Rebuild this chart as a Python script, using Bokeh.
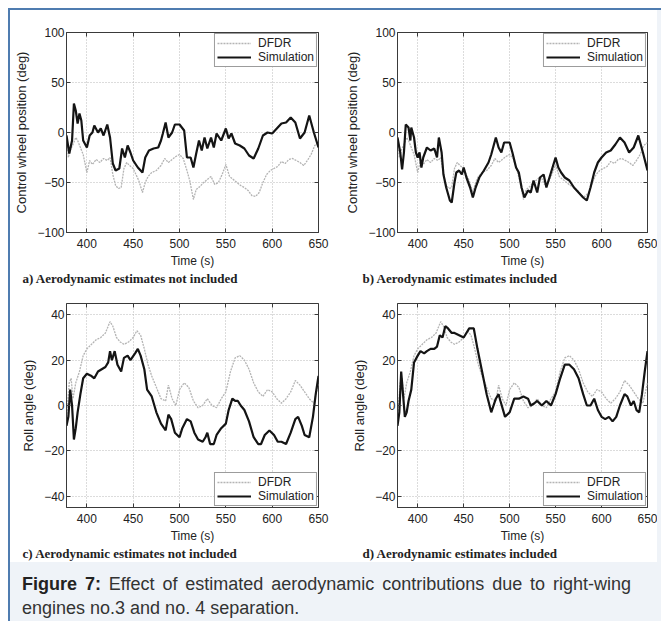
from bokeh.plotting import figure
from bokeh.layouts import row, column
from bokeh.models import Range1d, FixedTicker, LinearAxis, Title, Div
from bokeh.embed import file_html
from bokeh.resources import INLINE

# ---------------- data ----------------
x_ticks = [400, 450, 500, 550, 600, 650]
x_tick_labels = ["400", "450", "500", "550", "600", "650"]
wheel_ticks = [-100, -50, 0, 50, 100]
wheel_tick_labels = ["\u2212100", "\u221250", "0", "50", "100"]
roll_ticks = [-40, -20, 0, 20, 40]
roll_tick_labels = ["\u221240", "\u221220", "0", "20", "40"]

# DFDR control wheel position (same record in panels a and b)
t_wheel_dfdr = [378, 380, 382, 385, 388, 390, 393, 396, 400, 403, 406, 410, 414, 418, 422, 425,
                428, 431, 434, 437, 440, 443, 446, 450, 453, 456, 460, 463, 466, 470, 475, 480,
                484, 488, 492, 496, 500, 504, 508, 511, 515, 518, 522, 526, 530, 534, 538, 542,
                546, 550, 554, 558, 562, 566, 570, 574, 578, 582, 586, 590, 594, 598, 602, 606,
                610, 614, 618, 622, 626, 630, 634, 638, 642, 646, 650]
wheel_dfdr = [-8, -25, -18, -12, -5, -8, -15, -22, -40, -28, -32, -27, -30, -26, -28, -25,
              -42, -53, -56, -55, -36, -30, -33, -36, -42, -48, -60, -50, -44, -40, -38, -33,
              -26, -30, -27, -24, -22, -26, -38, -48, -67, -57, -54, -50, -47, -44, -52, -50,
              -42, -32, -44, -47, -50, -53, -55, -58, -63, -64, -60, -50, -42, -38, -36, -34,
              -29, -31, -27, -26, -28, -30, -33, -28, -22, -13, -10]

# Simulation, aerodynamic estimates not included (panel a)
t_wheel_sim_a = [378, 381, 384, 386, 388, 390, 392, 394, 396, 400, 403, 406, 408, 412, 415, 418,
                 422, 425, 428, 431, 435, 438, 441, 444, 447, 450, 455, 460, 463, 467, 472, 477,
                 480, 482, 485, 488, 492, 495, 500, 505, 508, 512, 515, 518, 521, 524, 527, 530,
                 534, 537, 540, 545, 550, 553, 556, 560, 565, 570, 575, 580, 585, 590, 595, 600,
                 605, 610, 615, 620, 625, 630, 635, 640, 645, 650]
wheel_sim_a = [-3, -21, -8, 29, 22, 9, 19, 12, -8, -15, -3, 0, 7, 0, 4, -3,
               8, -5, -31, -38, -36, -16, -25, -13, -20, -28, -35, -40, -25, -18, -16, -15,
               -8, -1, 10, -5, 0, 8, 8, 2, -25, -25, -35, -21, -8, -18, -5, -16,
               -5, -15, -1, -8, 4, -6, -1, -11, -13, -16, -23, -26, -16, -3, 0, -1,
               4, 9, 10, 15, 10, -6, 0, 17, 0, -15]

# Simulation, aerodynamic estimates included (panel b)
t_wheel_sim_b = [378, 381, 383, 385, 387, 390, 392, 393, 396, 398, 400, 402, 404, 406, 408, 410,
                 414, 418, 421, 423, 426, 428, 431, 435, 437, 440, 442, 445, 448, 450, 453, 457,
                 460, 463, 467, 472, 477, 480, 485, 488, 491, 494, 500, 503, 507, 510, 513, 516,
                 520, 523, 526, 530, 533, 537, 540, 545, 550, 553, 556, 560, 565, 570, 575, 580,
                 584, 588, 592, 596, 600, 605, 610, 615, 620, 625, 630, 635, 640, 645, 650]
wheel_sim_b = [-5, -20, -37, -20, 8, 5, -8, 5, -5, -20, -25, -20, -35, -25, -20, -15,
               -18, -16, -25, -5, -20, -42, -55, -68, -70, -50, -40, -38, -42, -35, -45, -55,
               -65, -55, -45, -38, -30, -22, -5, -15, -20, -10, -10, -20, -35, -40, -55, -65,
               -58, -60, -48, -60, -45, -42, -55, -40, -25, -35, -40, -45, -48, -55, -60, -65,
               -68, -55, -40, -30, -25, -20, -18, -12, -5, -10, -20, -15, -3, -20, -38]

# DFDR roll angle (same record in panels c and d)
t_roll_dfdr = [378, 381, 383, 385, 388, 392, 396, 400, 405, 410, 415, 420, 425, 428, 432, 436,
               440, 445, 450, 454, 458, 462, 466, 470, 475, 480, 485, 488, 492, 496, 500, 505,
               510, 515, 520, 525, 530, 535, 540, 545, 550, 555, 560, 565, 570, 575, 580, 585,
               590, 595, 600, 605, 610, 615, 620, 625, 630, 635, 640, 645, 650]
roll_dfdr = [-5, 10, 12, 3, 10, 15, 22, 25, 27, 29, 30, 32, 37, 35, 30, 28,
             27, 28, 30, 33, 31, 25, 18, 13, 8, 3, 2, 9, 3, 0, 7, 10,
             8, 2, -1, 0, 3, 0, -1, 3, 6, 15, 21, 22, 20, 16, 10, 6,
             4, 7, 6, 3, 1, 3, 6, 11, 9, 6, 3, 1, 10]

# Simulation roll, aerodynamic estimates not included (panel c)
t_roll_sim_c = [378, 380, 382, 384, 386, 388, 390, 393, 396, 400, 405, 408, 412, 416, 420, 423,
                425, 427, 430, 433, 437, 440, 444, 447, 452, 455, 458, 462, 465, 470, 475, 480,
                485, 488, 491, 495, 500, 503, 508, 512, 516, 520, 525, 528, 530, 533, 537, 540,
                545, 550, 553, 557, 560, 563, 566, 570, 575, 580, 585, 588, 592, 597, 602, 606,
                610, 615, 620, 625, 628, 632, 635, 640, 644, 647, 650]
roll_sim_c = [-9, -5, 7, 0, -15, -10, -3, 5, 12, 14, 13, 12, 15, 16, 17, 19,
              24, 20, 24, 18, 15, 21, 22, 20, 23, 25, 22, 16, 7, 4, -3, -8,
              -11, -4, -6, -12, -14, -10, -6, -7, -12, -15, -16, -14, -12, -17, -17, -13,
              -10, -8, -2, 3, 2, 2, 0, -2, -7, -14, -17, -17, -13, -11, -13, -16,
              -16, -17, -12, -6, -5, -9, -13, -14, -5, 5, 13]

# Simulation roll, aerodynamic estimates included (panel d)
t_roll_sim_d = [378, 380, 382, 384, 386, 388, 390, 393, 396, 400, 403, 407, 410, 414, 418, 421,
                424, 427, 430, 433, 437, 440, 445, 450, 453, 456, 461, 465, 470, 475, 480, 485,
                488, 490, 495, 500, 505, 510, 515, 520, 523, 527, 530, 535, 540, 545, 550, 555,
                560, 565, 570, 575, 580, 584, 588, 592, 596, 600, 604, 608, 612, 616, 620, 625,
                628, 632, 635, 638, 641, 644, 647, 650]
roll_sim_d = [-9, -3, 15, 5, -5, -3, 2, 7, 19, 22, 24, 23, 24, 25, 25, 26,
              31, 30, 35, 34, 32, 32, 31, 30, 32, 34, 34, 25, 15, 5, -3, 3,
              5, 2, -5, -3, 3, 3, 4, 3, 0, 1, 2, 0, 2, 0, 5, 12,
              18, 18, 16, 12, 5, 0, 0, 3, -2, -5, -6, -5, -7, -5, 0, 5,
              4, 0, 2, -2, -3, 5, 15, 24]

captions = ["a) Aerodynamic estimates not included",
            "b) Aerodynamic estimates included",
            "c) Aerodynamic estimates not included",
            "d) Aerodynamic estimates included"]
series_names = ["DFDR", "Simulation"]

# ---------------- styling ----------------
FONT = "Liberation Sans"
SERIF = "Liberation Serif"
INK = "#222222"
FRAME = "#3a3a3a"
BLUE = "#4f7cb0"
PALE = "#eff3f8"


def make_panel(width, height, b_left, b_right, b_top, b_bottom, yr, yticks, ylabels,
               ylabel, caption, cap_offset, t_d, v_d, t_s, v_s, legend_loc):
    p = figure(width=width, height=height, x_range=Range1d(378, 650),
               y_range=Range1d(yr[0], yr[1]), output_backend="svg", toolbar_location=None,
               min_border_left=b_left, min_border_right=b_right,
               min_border_top=b_top, min_border_bottom=b_bottom)
    p.background_fill_color = "white"
    p.border_fill_color = "white"
    p.outline_line_color = FRAME
    p.outline_line_width = 1

    for ax in (p.xaxis[0], p.yaxis[0]):
        ax.axis_line_color = FRAME
        ax.major_tick_in = 4
        ax.major_tick_out = 0
        ax.major_tick_line_color = FRAME
        ax.minor_tick_line_color = None
        ax.major_label_text_font = FONT
        ax.major_label_text_font_size = "12px"
        ax.major_label_text_color = INK
        ax.axis_label_text_font = FONT
        ax.axis_label_text_font_style = "normal"
        ax.axis_label_text_color = INK

    p.xaxis[0].ticker = FixedTicker(ticks=x_ticks)
    p.xaxis[0].major_label_overrides = dict(zip(x_ticks, x_tick_labels))
    p.xaxis[0].axis_label = "Time (s)"
    p.xaxis[0].axis_label_text_font_size = "12px"
    p.xaxis[0].major_label_standoff = 6
    p.xaxis[0].axis_label_standoff = 3

    p.yaxis[0].ticker = FixedTicker(ticks=yticks)
    p.yaxis[0].major_label_overrides = dict(zip(yticks, ylabels))
    p.yaxis[0].axis_label = ylabel
    p.yaxis[0].axis_label_text_font_size = "13px"
    p.yaxis[0].major_label_standoff = 2
    p.yaxis[0].axis_label_standoff = 5

    for loc, tk in (("above", x_ticks), ("right", yticks)):
        ax = LinearAxis(ticker=FixedTicker(ticks=tk), axis_line_color=None,
                        major_tick_in=4, major_tick_out=0, major_tick_line_color=FRAME,
                        minor_tick_line_color=None, major_label_text_font_size="0px",
                        major_label_text_color=None, major_label_standoff=0)
        p.add_layout(ax, loc)

    p.xgrid.ticker = FixedTicker(ticks=x_ticks)
    p.ygrid.ticker = FixedTicker(ticks=yticks)
    for g in (p.xgrid[0], p.ygrid[0]):
        g.grid_line_color = "#b8b8b8"
        g.grid_line_dash = "1 2"
        g.grid_line_width = 1

    p.line(t_d, v_d, line_color="#b4b4b4", line_width=1.3, line_dash="2 1",
           legend_label=series_names[0])
    p.line(t_s, v_s, line_color="#141414", line_width=2.2, legend_label=series_names[1])

    lg = p.legend[0]
    lg.location = legend_loc
    lg.margin = 1
    lg.padding = 2
    lg.spacing = 0
    lg.label_text_font = FONT
    lg.label_text_font_size = "12px"
    lg.label_text_color = INK
    lg.label_height = 10
    lg.glyph_height = 10
    lg.glyph_width = 34
    lg.label_standoff = 7
    lg.border_line_color = FRAME
    lg.border_line_width = 1
    lg.background_fill_color = "white"
    lg.background_fill_alpha = 1

    p.add_layout(Title(text=caption, align="left", offset=cap_offset, standoff=-4,
                       text_font=SERIF, text_font_size="13px", text_font_style="bold",
                       text_color=INK), "below")
    return p


pa = make_panel(321, 278, 56, 13, 22, 56, (-100, 100), wheel_ticks, wheel_tick_labels,
                "Control wheel position (deg)", captions[0], -44,
                t_wheel_dfdr, wheel_dfdr, t_wheel_sim_a, wheel_sim_a, "top_right")
pb = make_panel(326, 278, 66, 10, 22, 56, (-100, 100), wheel_ticks, wheel_tick_labels,
                "Control wheel position (deg)", captions[1], -35,
                t_wheel_dfdr, wheel_dfdr, t_wheel_sim_b, wheel_sim_b, "top_right")
pc = make_panel(321, 274, 56, 13, 15, 55, (-45, 45), roll_ticks, roll_tick_labels,
                "Roll angle (deg)", captions[2], -44,
                t_roll_dfdr, roll_dfdr, t_roll_sim_c, roll_sim_c, "bottom_right")
pd = make_panel(326, 274, 66, 10, 15, 55, (-45, 45), roll_ticks, roll_tick_labels,
                "Roll angle (deg)", captions[3], -35,
                t_roll_dfdr, roll_dfdr, t_roll_sim_d, roll_sim_d, "bottom_right")

caption_html = (
    '<div style="font-family: \'Liberation Sans\', Arial, sans-serif; font-size: 18px; '
    'line-height: 24px; text-align: justify; color: #333333; width: 630px; '
    'padding: 10px 9px 0 12px;">'
    '<b style="color:#222222">Figure 7:</b> Effect of estimated aerodynamic contributions '
    'due to right-wing engines no.3 and no. 4 separation.</div>'
)
cap = Div(text=caption_html, width=651, height=59, margin=0,
          styles={"background-color": PALE, "overflow": "hidden"})

strip1 = Div(text="", width=4, height=278, margin=0,
             styles={"background-color": PALE, "overflow": "hidden"})
strip2 = Div(text="", width=4, height=274, margin=0,
             styles={"background-color": PALE, "overflow": "hidden"})
inner = column(row(pa, pb, strip1), row(pc, pd, strip2), cap)

top_line = Div(text="", width=653, height=2, margin=(8, 0, 0, 8),
               styles={"background-color": BLUE, "overflow": "hidden"})
left_line = Div(text="", width=2, height=611, margin=(0, 0, 0, 8),
                styles={"background-color": BLUE, "overflow": "hidden"})

layout = column(top_line, row(left_line, inner))

open("out.html", "w").write(file_html(layout, INLINE))
